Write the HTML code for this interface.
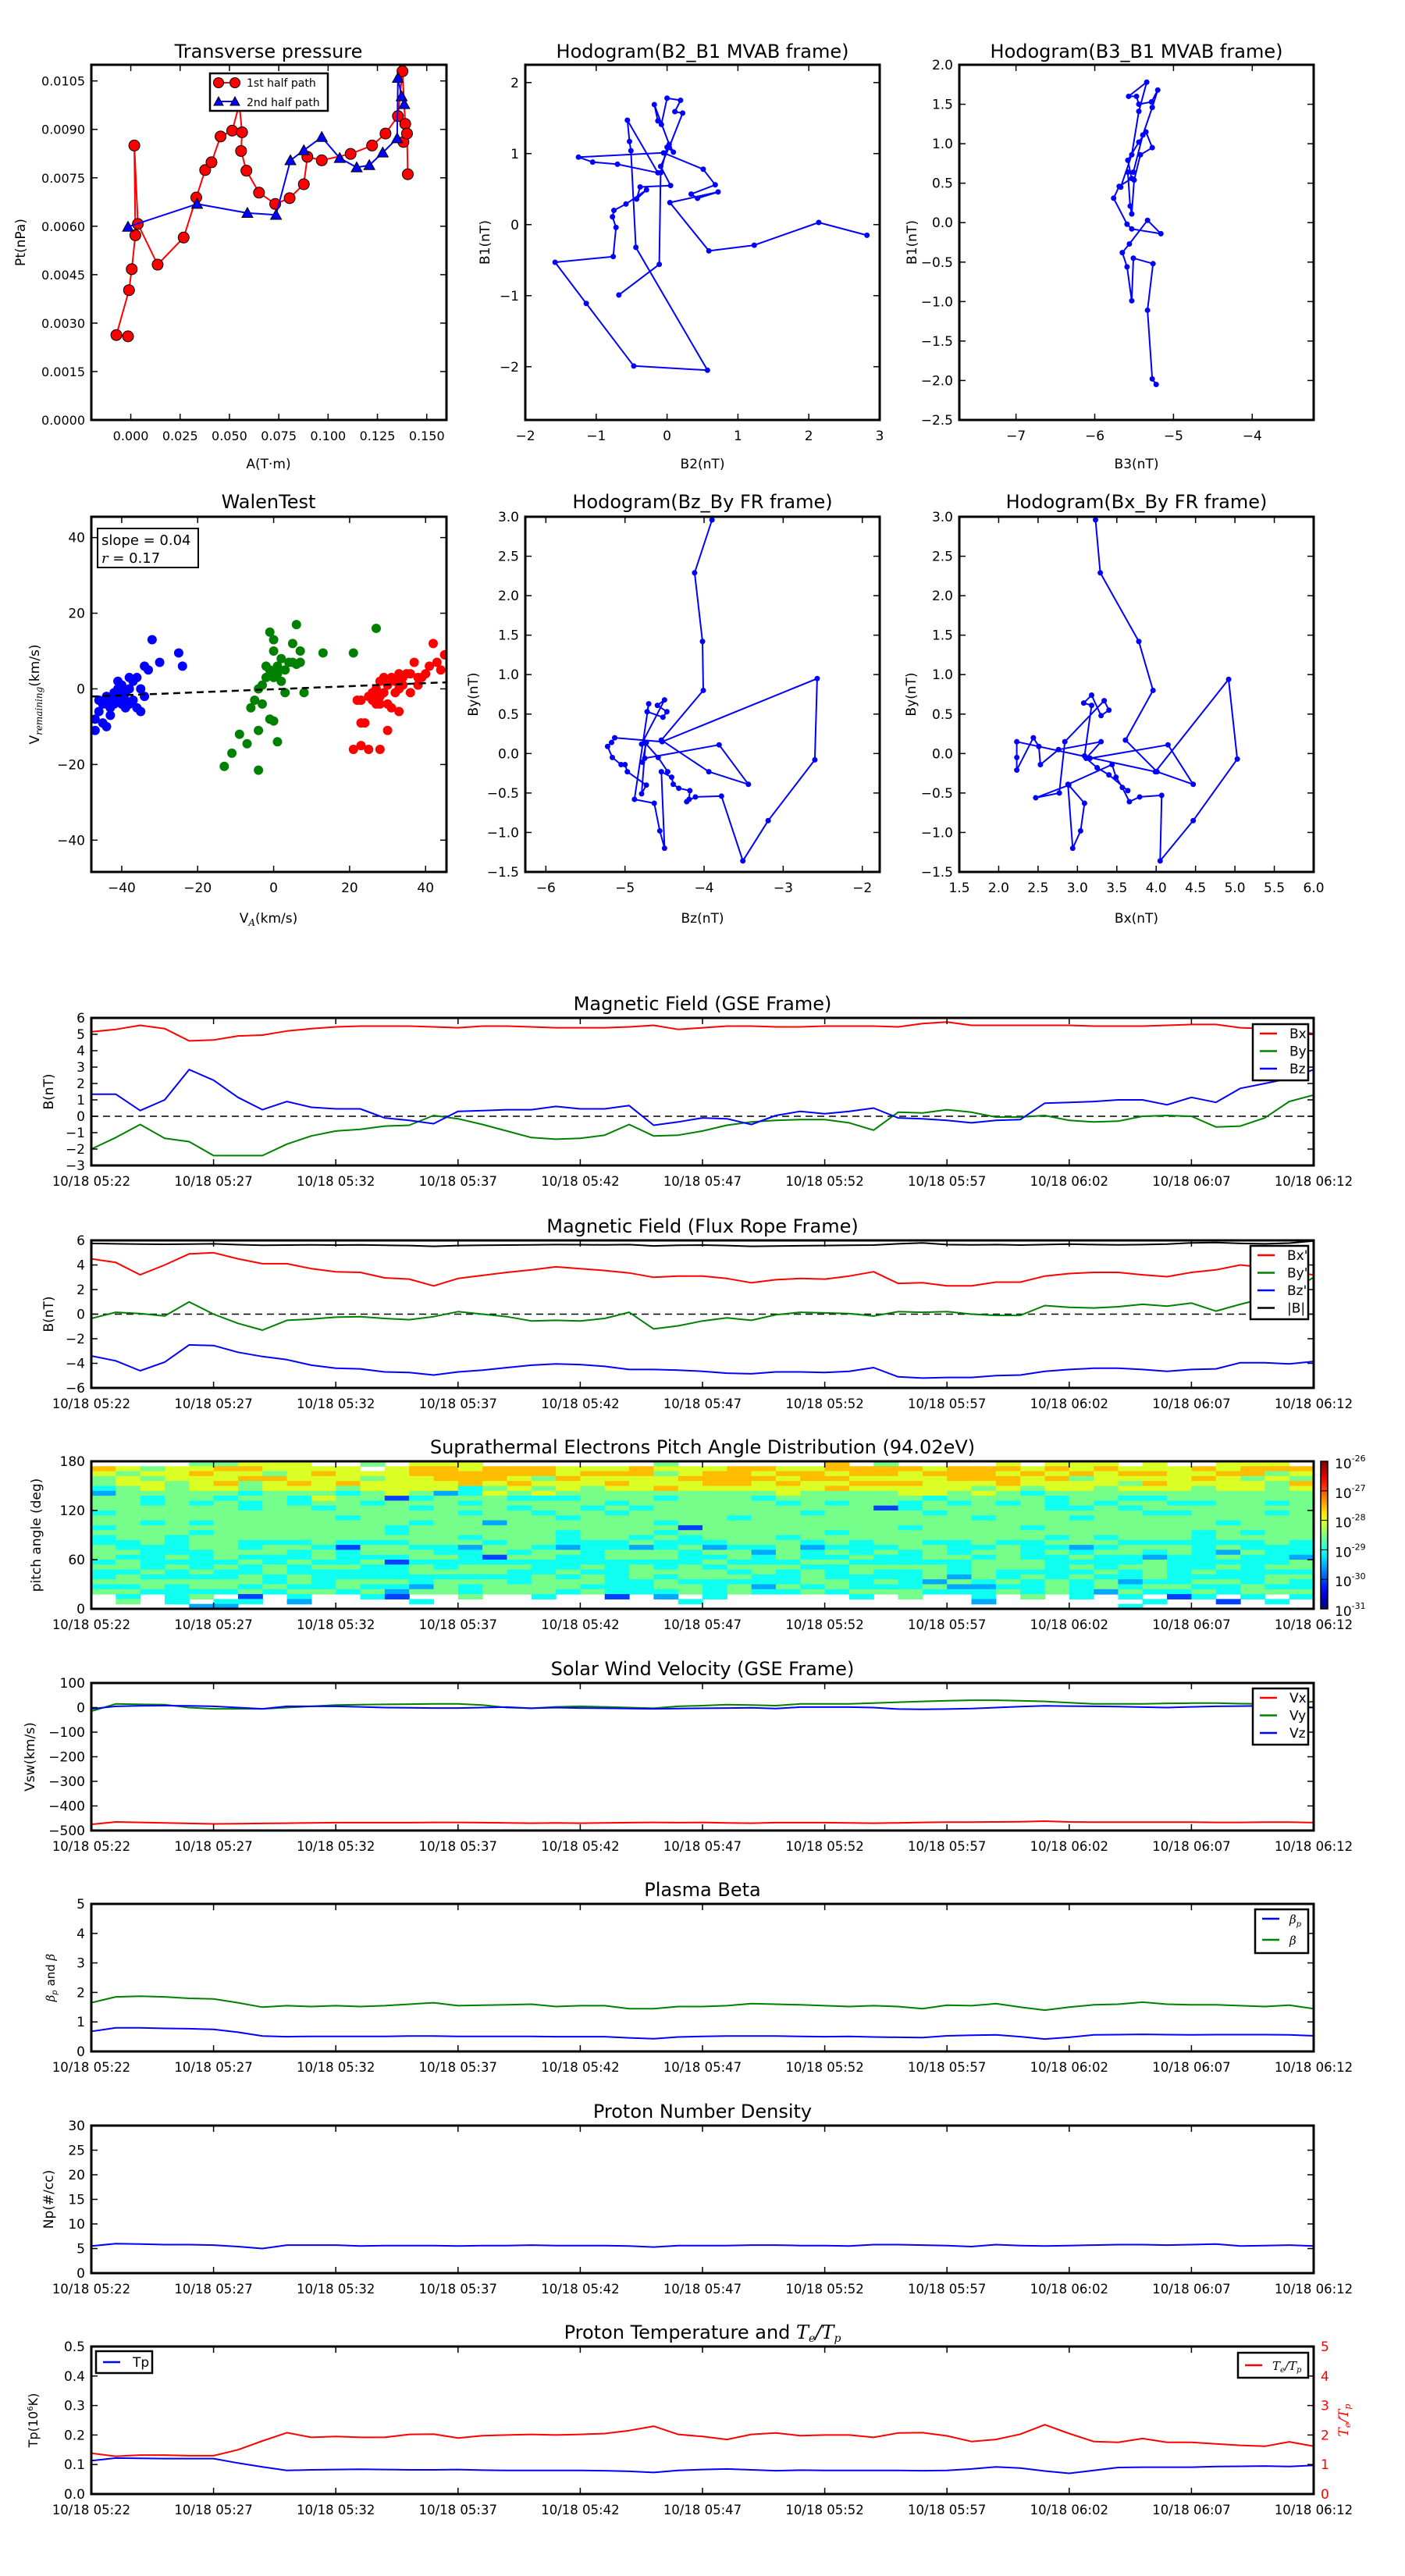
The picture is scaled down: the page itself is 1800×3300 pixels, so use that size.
<!DOCTYPE html>
<html><head><meta charset="utf-8">
<style>
html,body{margin:0;padding:0;background:#fff;}
svg{display:block;font-family:"DejaVu Sans","Liberation Sans",sans-serif;}
</style></head>
<body>
<svg id="fig" xmlns="http://www.w3.org/2000/svg" width="1800" height="3300" viewBox="0 0 1800 3300"></svg>
<script>
// ---------------- DATA ----------------
const minutes = [...Array(51).keys()];
const timeTickLabels = ["10/18 05:22","10/18 05:27","10/18 05:32","10/18 05:37","10/18 05:42","10/18 05:47","10/18 05:52","10/18 05:57","10/18 06:02","10/18 06:07","10/18 06:12"];

const gseBx = [5.15,5.3,5.55,5.35,4.6,4.65,4.9,4.95,5.2,5.35,5.45,5.5,5.5,5.5,5.45,5.4,5.5,5.5,5.45,5.4,5.4,5.4,5.45,5.55,5.3,5.4,5.5,5.5,5.45,5.45,5.5,5.5,5.5,5.45,5.65,5.75,5.55,5.55,5.55,5.55,5.55,5.5,5.5,5.5,5.55,5.6,5.6,5.4,5.35,5.2,5.05];
const gseBy = [-2.0,-1.3,-0.5,-1.35,-1.55,-2.4,-2.4,-2.4,-1.7,-1.2,-0.9,-0.8,-0.6,-0.55,0.05,-0.15,-0.5,-0.9,-1.3,-1.4,-1.35,-1.15,-0.5,-1.2,-1.15,-0.9,-0.55,-0.35,-0.25,-0.2,-0.2,-0.4,-0.85,0.25,0.2,0.4,0.25,-0.05,-0.05,0.05,-0.25,-0.35,-0.3,0.0,0.05,0.0,-0.65,-0.6,-0.1,0.9,1.3];
const gseBz = [1.35,1.35,0.35,1.0,2.85,2.2,1.15,0.4,0.9,0.55,0.45,0.45,-0.1,-0.25,-0.45,0.3,0.35,0.4,0.4,0.6,0.45,0.45,0.65,-0.55,-0.35,-0.1,-0.15,-0.5,0.05,0.3,0.15,0.3,0.5,-0.1,-0.15,-0.25,-0.4,-0.25,-0.2,0.8,0.85,0.9,1.0,1.0,0.7,1.15,0.85,1.7,2.0,2.3,2.85];

const frBx = [4.5,4.2,3.2,4.0,4.9,5.0,4.5,4.1,4.1,3.7,3.45,3.4,2.95,2.85,2.3,2.9,3.15,3.4,3.6,3.85,3.7,3.55,3.35,3.0,3.1,3.1,2.9,2.55,2.8,2.9,2.85,3.1,3.45,2.5,2.55,2.3,2.3,2.6,2.6,3.1,3.3,3.4,3.4,3.2,3.05,3.4,3.6,4.0,3.8,3.45,3.2];
const frBy = [-0.35,0.15,0.05,-0.15,1.0,0.0,-0.75,-1.3,-0.5,-0.4,-0.25,-0.2,-0.35,-0.45,-0.2,0.2,0.0,-0.2,-0.55,-0.5,-0.55,-0.35,0.15,-1.2,-0.95,-0.55,-0.3,-0.5,-0.05,0.15,0.1,0.05,-0.15,0.2,0.15,0.2,0.0,-0.1,-0.1,0.7,0.55,0.5,0.6,0.8,0.65,0.9,0.25,0.8,1.3,1.8,3.0];
const frBz = [-3.4,-3.8,-4.6,-3.9,-2.5,-2.55,-3.1,-3.45,-3.7,-4.15,-4.4,-4.45,-4.7,-4.75,-4.95,-4.7,-4.55,-4.35,-4.15,-4.05,-4.1,-4.25,-4.5,-4.5,-4.55,-4.65,-4.8,-4.85,-4.7,-4.7,-4.75,-4.65,-4.35,-5.1,-5.2,-5.15,-5.15,-5.0,-4.95,-4.65,-4.5,-4.4,-4.4,-4.5,-4.65,-4.5,-4.45,-3.95,-3.95,-4.05,-3.85];
const frBt = [5.75,5.72,5.7,5.68,5.7,5.72,5.65,5.6,5.62,5.64,5.62,5.63,5.6,5.58,5.52,5.58,5.6,5.62,5.64,5.66,5.65,5.63,5.66,5.55,5.6,5.62,5.58,5.52,5.54,5.56,5.58,5.6,5.62,5.72,5.8,5.66,5.64,5.66,5.62,5.66,5.7,5.66,5.64,5.66,5.7,5.8,5.82,5.75,5.72,5.78,5.95];

const vx = [-475,-465,-467,-469,-471,-473,-472,-471,-470,-469,-468,-468,-468,-468,-467,-467,-468,-469,-470,-469,-470,-469,-468,-467,-468,-467,-469,-470,-468,-468,-468,-469,-470,-469,-467,-466,-466,-465,-464,-462,-465,-466,-466,-466,-466,-466,-467,-467,-466,-466,-468];
const vy = [-15,15,13,12,0,-5,-5,-5,0,5,10,12,13,14,15,15,10,0,-3,3,5,3,0,-3,5,8,12,10,8,15,15,15,18,22,25,28,30,30,28,25,20,15,15,15,17,18,18,16,15,12,25];
const vz = [-5,5,7,8,7,5,0,-5,5,5,5,3,0,-1,-2,-2,0,2,-3,0,-2,-3,-4,-5,-4,-3,-2,-1,-4,2,2,2,0,-6,-7,-6,-4,0,4,7,6,5,4,2,0,3,5,6,7,7,0];

const betaP = [0.68,0.8,0.8,0.78,0.77,0.75,0.65,0.52,0.5,0.51,0.51,0.51,0.51,0.52,0.52,0.51,0.51,0.51,0.51,0.5,0.5,0.5,0.46,0.43,0.49,0.51,0.52,0.52,0.52,0.51,0.5,0.51,0.49,0.48,0.47,0.53,0.55,0.56,0.5,0.42,0.48,0.56,0.57,0.58,0.57,0.56,0.57,0.57,0.57,0.56,0.53];
const betaT = [1.65,1.85,1.87,1.85,1.8,1.78,1.65,1.5,1.55,1.52,1.55,1.52,1.55,1.6,1.65,1.55,1.57,1.58,1.6,1.52,1.55,1.55,1.45,1.45,1.52,1.52,1.55,1.62,1.6,1.58,1.55,1.52,1.55,1.52,1.45,1.57,1.55,1.62,1.5,1.4,1.5,1.58,1.6,1.67,1.6,1.58,1.58,1.55,1.52,1.57,1.45];

const np = [5.5,6.0,5.9,5.8,5.8,5.7,5.4,5.0,5.7,5.7,5.7,5.5,5.6,5.6,5.6,5.5,5.6,5.6,5.7,5.6,5.6,5.6,5.5,5.3,5.6,5.6,5.6,5.7,5.7,5.6,5.6,5.5,5.8,5.8,5.7,5.6,5.4,5.8,5.6,5.5,5.6,5.7,5.8,5.8,5.7,5.8,5.9,5.5,5.6,5.7,5.5];

const tp = [0.113,0.122,0.121,0.12,0.12,0.12,0.105,0.092,0.08,0.082,0.083,0.084,0.083,0.082,0.082,0.083,0.081,0.08,0.08,0.08,0.08,0.079,0.077,0.073,0.08,0.083,0.085,0.082,0.079,0.081,0.08,0.08,0.08,0.08,0.079,0.08,0.085,0.092,0.088,0.078,0.07,0.08,0.09,0.091,0.091,0.091,0.093,0.094,0.095,0.093,0.097];
const teTp = [1.38,1.28,1.32,1.32,1.3,1.3,1.5,1.8,2.08,1.92,1.95,1.92,1.92,2.02,2.03,1.9,1.98,2.0,2.02,2.0,2.02,2.05,2.15,2.3,2.02,1.95,1.85,2.02,2.07,1.98,2.0,2.0,1.92,2.07,2.08,1.97,1.78,1.85,2.03,2.35,2.05,1.78,1.75,1.88,1.75,1.75,1.7,1.65,1.62,1.77,1.62];

// PAD: rows from 180deg (top) to 0deg; digit = colour level, '.' = no data
const padRows = [
"....55666..5.666.......5......7.5....6.666.6..666..",
"76566776666.67767776667666776677776777676766676777",
"65667665676667777776777567767767767776767677667756",
"56566677666566777657666677776776666777675666676565",
"56656756767666676766676667767667776667666657666657",
"45656656665666645656566766666676666656566566656656",
"35555545554565346565555555556555566565455555555555",
"55455455465524555444555455545555554555545544555555",
"55454545455455545555545555554545545454545455445545",
"55555545545554555455454555555555245555544545555555",
"45555555555555545545545555555455554555555554455545",
"55555555554555555554555555455555555545554555555555",
"55454555555554553555555455555555555555555555554555",
"45555555555545555555555525555555545555455555555555",
"55554555555545555554555455555545555555555555545455",
"45545555555555545554554545554555555555545455545555",
"44545544454445554554445444555454554454455544444454",
"54445545542554435543443453445344455445443455545444",
"55444555454555445455455545535454545455454554543544",
"54454544454445542554455544545445445545445443445443",
"45444454544524444444444445444554444455544445444445",
"55454545455445455544545454555445555455545455445455",
"44545445444445555445445555454545445454444545454444",
"45444454544444444454545455544544445354545445444455",
"55555554545554555455544544444554543545454534455454",
"44545545445443545555444554535454445334454545544544",
"55444454554535545554544454544545554445454354454555",
".4.45.2.4..42..5..4..2.3.4.....4.5..4.5.4.4.24.4.4",
".5.4.44.3....4..........4...........3......4..2.4.",
"....33....................................4......."
];
const cbarTickExps = ["-26","-27","-28","-29","-30","-31"];

// Transverse pressure
const tpA1 = [-0.0014,-0.0073,-0.0009,0.0005,0.0023,0.0018,0.0036,0.0136,0.0268,0.0332,0.0377,0.0409,0.0455,0.0514,0.0550,0.0564,0.0559,0.0586,0.0650,0.0732,0.0805,0.0877,0.0895,0.0968,0.1114,0.1223,0.1291,0.1354,0.1377,0.1391,0.1382,0.1400,0.1404];
const tpP1 = [0.00259,0.00263,0.00402,0.00467,0.00572,0.00850,0.00607,0.00481,0.00565,0.00689,0.00774,0.00798,0.00878,0.00896,0.00978,0.00891,0.00833,0.00772,0.00704,0.00669,0.00687,0.00730,0.00815,0.00804,0.00824,0.00850,0.00887,0.00941,0.01080,0.00917,0.00861,0.00887,0.00761];
const tpA2 = [-0.0014,0.0336,0.0591,0.0736,0.0809,0.0877,0.0968,0.1059,0.1145,0.1209,0.1277,0.1350,0.1354,0.1373,0.1386];
const tpP2 = [0.00598,0.00669,0.00641,0.00635,0.00804,0.00835,0.00876,0.00811,0.00782,0.00789,0.00828,0.00872,0.01059,0.01002,0.00978];

// Hodogram B2-B1
const h1B2 = [-0.68,-0.11,-0.09,0.00,0.09,0.03,-0.18,-0.13,-0.08,0.00,0.19,0.11,0.22,0.03,-0.09,0.05,-0.38,-0.43,-0.29,-0.58,-0.75,-0.77,-0.72,-0.76,-1.58,-1.14,-0.47,0.57,-0.44,-0.51,-0.53,-0.56,-0.13,-0.70,-1.05,-1.25,-0.05,0.51,0.68,0.34,0.43,0.72,0.04,0.59,1.23,2.14,2.82];
const h1B1 = [-0.99,-0.56,0.73,1.09,1.02,1.13,1.69,1.46,1.41,1.78,1.75,1.59,1.57,1.09,0.82,0.55,0.53,0.36,0.49,0.29,0.20,0.11,-0.04,-0.45,-0.53,-1.11,-1.99,-2.05,-0.32,1.04,1.17,1.47,0.73,0.85,0.88,0.95,1.01,0.78,0.56,0.43,0.37,0.46,0.31,-0.37,-0.29,0.03,-0.15];
// Hodogram B3-B1
const h2B3 = [-5.22,-5.27,-5.33,-5.26,-5.51,-5.53,-5.59,-5.65,-5.56,-5.33,-5.16,-5.53,-5.59,-5.76,-5.69,-5.53,-5.58,-5.44,-5.35,-5.27,-5.42,-5.50,-5.53,-5.55,-5.58,-5.51,-5.39,-5.27,-5.20,-5.28,-5.44,-5.47,-5.57,-5.34,-5.44,-5.53,-5.67];
const h2B1 = [-2.05,-1.98,-1.11,-0.52,-0.45,-0.99,-0.56,-0.38,-0.27,0.03,-0.14,-0.08,-0.02,0.31,0.46,0.56,0.79,1.02,1.15,0.95,0.86,0.54,0.11,0.21,0.64,0.64,1.11,1.46,1.68,1.53,1.50,1.60,1.60,1.78,1.41,0.86,0.45];
// Hodogram Bz-By (FR)
const h3Bz = [-3.90,-4.12,-4.02,-4.01,-4.54,-3.94,-3.44,-3.81,-4.75,-4.78,-4.73,-4.79,-4.50,-4.59,-4.47,-4.52,-4.72,-4.70,-4.88,-4.63,-4.56,-4.50,-4.54,-4.41,-4.39,-4.32,-4.18,-4.19,-4.22,-4.11,-3.78,-3.51,-3.19,-2.60,-2.57,-4.53,-5.13,-5.17,-5.22,-5.16,-5.05,-5.00,-4.97,-4.73,-4.79,-4.74,-4.58,-4.46];
const h3By = [2.96,2.29,1.42,0.80,0.17,-0.23,-0.39,0.11,-0.06,-0.11,0.14,0.12,0.68,0.61,0.53,0.46,0.53,0.63,-0.58,-0.63,-0.98,-1.20,-0.23,-0.30,-0.39,-0.44,-0.47,-0.58,-0.61,-0.55,-0.54,-1.36,-0.85,-0.08,0.95,0.15,0.20,0.14,0.09,-0.05,-0.14,-0.14,-0.23,-0.40,-0.51,0.13,-0.05,-0.23];
// Hodogram Bx-By (FR)
const h4Bx = [3.23,3.29,3.78,3.96,3.61,4.01,4.47,4.15,3.16,3.09,3.18,3.08,3.18,3.30,3.40,3.34,2.84,2.77,2.47,2.89,3.09,3.04,2.94,2.88,3.44,3.49,3.57,3.66,3.79,4.07,4.05,4.47,5.03,4.92,3.99,2.23,2.23,2.23,2.44,2.51,2.53,2.76,3.30,3.11,3.25,3.40,3.64];
const h4By = [2.96,2.29,1.42,0.80,0.17,-0.23,-0.39,0.11,-0.06,-0.03,0.61,0.64,0.74,0.48,0.55,0.67,0.15,-0.50,-0.56,-0.40,-0.63,-0.98,-1.20,-0.39,-0.14,-0.30,-0.43,-0.61,-0.55,-0.53,-1.36,-0.85,-0.07,0.94,-0.23,0.15,-0.05,-0.21,0.20,0.09,-0.14,0.05,0.15,-0.06,-0.18,-0.27,-0.47];

// Walen test
const walenBlueX = [-47,-46,-45,-45,-44,-43,-43,-42,-42,-41,-41,-40,-40,-40,-39,-39,-38,-38,-37,-37,-36,-36,-35,-34,-34,-33,-32,-30,-25,-24,-46,-44,-42,-41,-39,-38,-35,-44,-47];
const walenBlueY = [-11,-6,-9,-4,-2,-7,-5,-3,-1,0,2,-4,-2,1,-3,-5,3,0,2,-3,3,-5,-6,6,-2,5,13,7,9.5,6,-3,-4,-4,-2,-1,-4,0,-10,-8];
const walenGreenX = [-13,-11,-9,-7,-6,-5,-4,-4,-3,-4,-3,-2,-2,-1,-1,0,-1,0,0,1,0,1,1,2,2,3,3,4,5,5,6,6,7,7,8,13,21,27];
const walenGreenY = [-20.5,-17,-12,-14.5,-5,-3,-21.5,-11,-4,0,1,3,6,5,-8,-8.5,15,13,10,-14,3,6,4,2,8,5,-1,7,12,7,6.5,17,7,10,-1,9.5,9.5,16];
const walenRedX = [21,22,23,23,23,24,25,26,26,27,27,28,28,28,29,29,30,30,30,31,32,32,33,33,34,34,35,36,36,37,38,38,39,40,41,42,43,45,44,31,33,28,25];
const walenRedY = [-16,-3,-3,-15,-9,-9,-2,-1,-3,0,-4,2,-2,-4,-1,3,1,-11,-4,3,2,-1,0,4,3,1,4,4,-1,7,1,3,3,4,6,12,7,9,5,-5,-6,-16,-16];
const walenSlope = 0.04, walenIntercept = -0.1;

// ---------------- DRAWING ----------------
const NS = "http://www.w3.org/2000/svg";
const svg = document.getElementById('fig');
let clipId = 0;
function mk(tag, attrs, parent){
  const e = document.createElementNS(NS, tag);
  for (const k in attrs) e.setAttribute(k, attrs[k]);
  (parent || svg).appendChild(e);
  return e;
}
function text(parent, x, y, str, size, anchor, nm, extra){
  const t = mk('text', Object.assign({x:x, y:y, 'font-size':size, 'text-anchor':anchor||'middle', fill:'#000'}, extra||{}), parent);
  t.textContent = str;
  
  
  return t;
}
function axes(nm, x0, y0, w, h, xd, yd){
  const g = mk('g', {});
  
  
  const id = 'clip' + (clipId++);
  const cp = mk('clipPath', {id:id}, g);
  mk('rect', {x:x0, y:y0, width:w, height:h}, cp);
  const plot = mk('g', {'clip-path':'url(#'+id+')'}, g);
  
  
  return {g, plot, x0, y0, w, h,
    sx: v => x0 + (v - xd[0]) / (xd[1] - xd[0]) * w,
    sy: v => y0 + h - (v - yd[0]) / (yd[1] - yd[0]) * h};
}
function frame(ax){
  const f = mk('rect', {x:ax.x0, y:ax.y0, width:ax.w, height:ax.h, fill:'none', stroke:'#000', 'stroke-width':3}, ax.g);
  
  
}
function xticks(ax, vals, labels, fs, noTop){
  vals.forEach((v, i) => {
    const x = ax.sx(v);
    mk('line', {x1:x, x2:x, y1:ax.y0+ax.h, y2:ax.y0+ax.h-8, stroke:'#000', 'stroke-width':1.5}, ax.g);
    if (!noTop) mk('line', {x1:x, x2:x, y1:ax.y0, y2:ax.y0+8, stroke:'#000', 'stroke-width':1.5}, ax.g);
    text(ax.g, x, ax.y0 + ax.h + 26, labels[i], fs || 17, 'middle', 'x-tick-label');
  });
}
function yticks(ax, vals, labels, fs, noRight){
  vals.forEach((v, i) => {
    const y = ax.sy(v);
    mk('line', {x1:ax.x0, x2:ax.x0+8, y1:y, y2:y, stroke:'#000', 'stroke-width':1.5}, ax.g);
    if (!noRight) mk('line', {x1:ax.x0+ax.w, x2:ax.x0+ax.w-8, y1:y, y2:y, stroke:'#000', 'stroke-width':1.5}, ax.g);
    text(ax.g, ax.x0 - 8, y + 6, labels[i], fs || 17, 'end', 'y-tick-label');
  });
}
function ylabel(ax, x, str, nm, size){
  const y = ax.y0 + ax.h/2;
  const t = text(ax.g, x, y, str, size || 17, 'middle', nm, {transform:'rotate(-90 '+x+' '+y+')'});
  return t;
}
function line(ax, xs, ys, color, nm, sw, dash){
  const pts = xs.map((v, i) => ax.sx(v).toFixed(1) + ',' + ax.sy(ys[i]).toFixed(1)).join(' ');
  const p = mk('polyline', {points:pts, fill:'none', stroke:color, 'stroke-width':sw||2, 'stroke-linejoin':'round'}, ax.plot);
  if (dash) p.setAttribute('stroke-dasharray', dash);
  
  
  return p;
}
function dots(ax, xs, ys, color, r, nm, stroke){
  xs.forEach((v, i) => {
    const c = mk('circle', {cx:ax.sx(v), cy:ax.sy(ys[i]), r:r, fill:color, stroke:stroke||'none', 'stroke-width':1}, ax.plot);
    
    
  });
}
function tris(ax, xs, ys, color, r, nm){
  xs.forEach((v, i) => {
    const x = ax.sx(v), y = ax.sy(ys[i]);
    const p = mk('polygon', {points:`${x},${y-r} ${x-r},${y+r*0.8} ${x+r},${y+r*0.8}`, fill:color, stroke:'#000', 'stroke-width':1}, ax.plot);
    
    
  });
}
function title(x, y, str, nm){ return text(svg, x, y, str, 24, 'middle', nm); }
const MATH = {'font-family':'"DejaVu Serif","Liberation Serif",serif','font-style':'italic'};
function mathLabel(t, parts, sub){
  parts.forEach(p => {
    const s = mk('tspan', Object.assign({}, MATH, p.sub ? {'font-size':sub, dy:p.dy} : {dy:p.dy||0}), t);
    s.textContent = p.s;
  });
}
function legend(ax, x, y, w, h, entries, nm){
  const g = mk('g', {}, ax.g);
  
  
  mk('rect', {x:x, y:y, width:w, height:h, fill:'#fff', stroke:'#000', 'stroke-width':2.5}, g);
  entries.forEach((e, i) => {
    const yy = y + 12 + i * e.dy + (e.off||0);
    mk('line', {x1:x+9, x2:x+31, y1:yy, y2:yy, stroke:e.c, 'stroke-width':2.5}, g);
    const t = text(g, x+(e.tx||47), yy+6, e.math ? '' : e.t, e.fs||17, 'start', 'legend-entry');
    if (e.math) mathLabel(t, e.math, 10);
  });
  return g;
}

// ---- time axis helper ----
const TL = 117, TW = 1566, TH = 189;
const timeTickVals = [0,5,10,15,20,25,30,35,40,45,50];
function tsAxes(nm, top, yd){
  return axes(nm, TL, top, TW, TH, [0, 50], yd);
}
function tsFinish(ax, ytv, ytl, noRight){
  xticks(ax, timeTickVals, timeTickLabels, 16.5);
  yticks(ax, ytv, ytl, 17, noRight);
  frame(ax);
}

// ================= ROW 1 =================
(function(){
  const ax = axes('transverse-pressure-chart', 117, 83, 455, 455, [-0.02, 0.16], [0, 0.011]);
  title(344, 74, 'Transverse pressure', 'transverse-pressure-title');
  line(ax, tpA1, tpP1, '#ff0000', 'first-half-path-line', 2);
  dots(ax, tpA1, tpP1, '#ff0000', 7, 'first-half-point', '#000');
  line(ax, tpA2, tpP2, '#0000ff', 'second-half-path-line', 2);
  tris(ax, tpA2, tpP2, '#0000ff', 7, 'second-half-point');
  const xv = [0,0.025,0.05,0.075,0.1,0.125,0.15];
  xticks(ax, xv, xv.map(v=>v.toFixed(3)), 16);
  const yv = [0,0.0015,0.003,0.0045,0.006,0.0075,0.009,0.0105];
  yticks(ax, yv, yv.map(v=>v.toFixed(4)), 16);
  text(svg, 344, 600, 'A(T·m)', 17, 'middle', 'x-axis-title');
  ylabel(ax, 32, 'Pt(nPa)', 'y-axis-title');
  const lg = mk('g', {}, ax.g);
  
  
  mk('rect', {x:269, y:94, width:151, height:48, fill:'#fff', stroke:'#000', 'stroke-width':2.5}, lg);
  mk('line', {x1:280, x2:301, y1:106, y2:106, stroke:'#ff0000', 'stroke-width':2}, lg);
  mk('circle', {cx:280, cy:106, r:6.5, fill:'#ff0000', stroke:'#000'}, lg);
  mk('circle', {cx:301, cy:106, r:6.5, fill:'#ff0000', stroke:'#000'}, lg);
  mk('line', {x1:280, x2:301, y1:130, y2:130, stroke:'#0000ff', 'stroke-width':2}, lg);
  mk('polygon', {points:'280,124 274,135 286,135', fill:'#0000ff', stroke:'#000'}, lg);
  mk('polygon', {points:'301,124 295,135 307,135', fill:'#0000ff', stroke:'#000'}, lg);
  text(lg, 316, 111, '1st half path', 14, 'start', 'legend-entry');
  text(lg, 316, 136, '2nd half path', 14, 'start', 'legend-entry');
  frame(ax);
})();

(function(){
  const ax = axes('hodogram-b2-b1-chart', 673, 83, 454, 455, [-2, 3], [-2.75, 2.25]);
  title(900, 74, 'Hodogram(B2_B1 MVAB frame)', 'hodogram-b2-b1-title');
  line(ax, h1B2, h1B1, '#0000ff', 'hodogram-b2-b1-line', 2);
  dots(ax, h1B2, h1B1, '#0000ff', 3.5, 'hodogram-b2-b1-point');
  xticks(ax, [-2,-1,0,1,2,3], ['−2','−1','0','1','2','3']);
  yticks(ax, [-2,-1,0,1,2], ['−2','−1','0','1','2']);
  text(svg, 900, 600, 'B2(nT)', 17, 'middle', 'x-axis-title');
  ylabel(ax, 627, 'B1(nT)', 'y-axis-title');
  frame(ax);
})();

(function(){
  const ax = axes('hodogram-b3-b1-chart', 1229, 83, 454, 455, [-7.72, -3.22], [-2.5, 2.0]);
  title(1456, 74, 'Hodogram(B3_B1 MVAB frame)', 'hodogram-b3-b1-title');
  line(ax, h2B3, h2B1, '#0000ff', 'hodogram-b3-b1-line', 2);
  dots(ax, h2B3, h2B1, '#0000ff', 3.5, 'hodogram-b3-b1-point');
  xticks(ax, [-7,-6,-5,-4], ['−7','−6','−5','−4']);
  const yv = [-2.5,-2,-1.5,-1,-0.5,0,0.5,1,1.5,2];
  yticks(ax, yv, yv.map(v=>(v<0?'−':'')+Math.abs(v).toFixed(1)));
  text(svg, 1456, 600, 'B3(nT)', 17, 'middle', 'x-axis-title');
  ylabel(ax, 1174, 'B1(nT)', 'y-axis-title');
  frame(ax);
})();

// ================= ROW 2 =================
(function(){
  const ax = axes('walen-test-chart', 117, 662, 455, 455, [-48, 45.5], [-48.4, 45.5]);
  title(344, 651, 'WalenTest', 'walen-test-title');
  dots(ax, walenBlueX, walenBlueY, '#0000ff', 6, 'walen-blue-point');
  dots(ax, walenGreenX, walenGreenY, '#008000', 6, 'walen-green-point');
  dots(ax, walenRedX, walenRedY, '#ff0000', 6, 'walen-red-point');
  line(ax, [-48, 45.5], [-48*walenSlope+walenIntercept, 45.5*walenSlope+walenIntercept], '#000', 'walen-fit-line', 2.5, '9,6');
  xticks(ax, [-40,-20,0,20,40], ['−40','−20','0','20','40']);
  yticks(ax, [-40,-20,0,20,40], ['−40','−20','0','20','40']);
  const xl = text(svg, 344, 1182, 'V', 17, 'middle', 'x-axis-title');
  const s1 = mk('tspan', {'font-size':12, 'font-style':'italic', 'font-family':'"DejaVu Serif",serif', dy:4}, xl); s1.textContent='A';
  const s2 = mk('tspan', {dy:-4}, xl); s2.textContent='(km/s)';
  const yl = ylabel(ax, 50, 'V', 'y-axis-title');
  const s3 = mk('tspan', {'font-size':12, 'font-style':'italic', 'font-family':'"DejaVu Serif",serif', dy:4}, yl); s3.textContent='remaining';
  const s4 = mk('tspan', {dy:-4}, yl); s4.textContent='(km/s)';
  const bx = mk('g', {}, ax.g);
  
  
  mk('rect', {x:125, y:677, width:129, height:50, fill:'#fff', stroke:'#000', 'stroke-width':2}, bx);
  text(bx, 130, 698, 'slope = 0.04', 18, 'start', 'slope-text');
  const rt = text(bx, 130, 721, '', 18, 'start', 'r-text');
  const r1 = mk('tspan', {'font-style':'italic','font-family':'"DejaVu Serif",serif'}, rt); r1.textContent='r';
  const r2 = mk('tspan', {}, rt); r2.textContent=' = 0.17';
  frame(ax);
})();

(function(){
  const ax = axes('hodogram-bz-by-chart', 673, 662, 454, 455, [-6.26, -1.78], [-1.5, 3.0]);
  title(900, 651, 'Hodogram(Bz_By FR frame)', 'hodogram-bz-by-title');
  line(ax, h3Bz, h3By, '#0000ff', 'hodogram-bz-by-line', 2);
  dots(ax, h3Bz, h3By, '#0000ff', 3.5, 'hodogram-bz-by-point');
  xticks(ax, [-6,-5,-4,-3,-2], ['−6','−5','−4','−3','−2']);
  const yv = [-1.5,-1,-0.5,0,0.5,1,1.5,2,2.5,3];
  yticks(ax, yv, yv.map(v=>(v<0?'−':'')+Math.abs(v).toFixed(1)));
  text(svg, 900, 1182, 'Bz(nT)', 17, 'middle', 'x-axis-title');
  ylabel(ax, 612, 'By(nT)', 'y-axis-title');
  frame(ax);
})();

(function(){
  const ax = axes('hodogram-bx-by-chart', 1229, 662, 454, 455, [1.5, 6.0], [-1.5, 3.0]);
  title(1456, 651, 'Hodogram(Bx_By FR frame)', 'hodogram-bx-by-title');
  line(ax, h4Bx, h4By, '#0000ff', 'hodogram-bx-by-line', 2);
  dots(ax, h4Bx, h4By, '#0000ff', 3.5, 'hodogram-bx-by-point');
  const xv = [1.5,2,2.5,3,3.5,4,4.5,5,5.5,6];
  xticks(ax, xv, xv.map(v=>v.toFixed(1)));
  const yv = [-1.5,-1,-0.5,0,0.5,1,1.5,2,2.5,3];
  yticks(ax, yv, yv.map(v=>(v<0?'−':'')+Math.abs(v).toFixed(1)));
  text(svg, 1456, 1182, 'Bx(nT)', 17, 'middle', 'x-axis-title');
  ylabel(ax, 1173, 'By(nT)', 'y-axis-title');
  frame(ax);
})();

// ================= TIME SERIES =================
const CX = TL + TW/2;
function neg(v){ return (v<0?'−':'') + Math.abs(v); }

(function(){
  const top = 1304;
  const ax = tsAxes('magnetic-field-gse-chart', top, [-3, 6]);
  title(CX, top-10, 'Magnetic Field (GSE Frame)', 'magnetic-field-gse-title');
  line(ax, [0,50], [0,0], '#000', 'zero-line', 1.5, '9,6');
  line(ax, minutes, gseBx, '#ff0000', 'bx-line');
  line(ax, minutes, gseBy, '#008000', 'by-line');
  line(ax, minutes, gseBz, '#0000ff', 'bz-line');
  const yv = [-3,-2,-1,0,1,2,3,4,5,6];
  tsFinish(ax, yv, yv.map(neg));
  ylabel(ax, 68, 'B(nT)', 'y-axis-title');
  legend(ax, 1605, 1312, 71, 72, [{t:'Bx',c:'#ff0000',dy:22.5},{t:'By',c:'#008000',dy:22.5},{t:'Bz',c:'#0000ff',dy:22.5}], 'gse-legend');
})();

(function(){
  const top = 1589;
  const ax = tsAxes('magnetic-field-fr-chart', top, [-6, 6]);
  title(CX, top-10, 'Magnetic Field (Flux Rope Frame)', 'magnetic-field-fr-title');
  line(ax, [0,50], [0,0], '#000', 'zero-line', 1.5, '9,6');
  line(ax, minutes, frBt, '#000000', 'btotal-line');
  line(ax, minutes, frBx, '#ff0000', 'bx-prime-line');
  line(ax, minutes, frBy, '#008000', 'by-prime-line');
  line(ax, minutes, frBz, '#0000ff', 'bz-prime-line');
  const yv = [-6,-4,-2,0,2,4,6];
  tsFinish(ax, yv, yv.map(neg));
  ylabel(ax, 68, 'B(nT)', 'y-axis-title');
  legend(ax, 1602, 1596, 74, 94, [{t:"Bx'",c:'#ff0000',dy:22.5},{t:"By'",c:'#008000',dy:22.5},{t:"Bz'",c:'#0000ff',dy:22.5},{t:'|B|',c:'#000',dy:22.5}], 'fr-legend');
})();

function jet(t){
  const c = v => Math.round(255*Math.max(0, Math.min(1, v)));
  return `rgb(${c(1.5-Math.abs(4*t-3))},${c(1.5-Math.abs(4*t-2))},${c(1.5-Math.abs(4*t-1))})`;
}
(function(){
  const top = 1872;
  const ax = tsAxes('pitch-angle-distribution-chart', top, [0, 180]);
  title(CX, top-10, 'Suprathermal Electrons Pitch Angle Distribution (94.02eV)', 'pad-title');
  const nRows = padRows.length, nCols = 50;
  const rowH = 180 / nRows;
  padRows.forEach((row, r) => {
    for (let c = 0; c < nCols; c++){
      const ch = row[c];
      if (!ch || ch === '.') continue;
      const lvl = parseInt(ch, 10);
      const x1 = ax.sx(c), x2 = ax.sx(c+1);
      const yTop = ax.sy(180 - r*rowH), yBot = ax.sy(180 - (r+1)*rowH);
      const cell = mk('rect', {x:x1, y:yTop, width:x2-x1+0.6, height:yBot-yTop+0.6, fill:jet(lvl/10 - 0.01)}, ax.plot);
      
      
    }
  });
  tsFinish(ax, [0,60,120,180], ['0','60','120','180']);
  ylabel(ax, 52, 'pitch angle (deg)', 'y-axis-title');
  const cb = mk('g', {});
  
  
  const defs = mk('defs', {}, cb);
  const lg = mk('linearGradient', {id:'jetgrad', x1:0, y1:1, x2:0, y2:0}, defs);
  for (let i = 0; i <= 20; i++){
    mk('stop', {offset:(i/20), 'stop-color':jet(i/20)}, lg);
  }
  mk('rect', {x:1692, y:1872, width:9, height:189, fill:'url(#jetgrad)', stroke:'#000', 'stroke-width':1.5}, cb);
  cbarTickExps.forEach((e, i) => {
    const y = 1872 + i * 189/5;
    mk('line', {x1:1692, x2:1701, y1:y, y2:y, stroke:'#000', 'stroke-width':1}, cb);
    const t = text(cb, 1710, y + 9, '10', 17, 'start', 'colorbar-tick-label');
    const s = mk('tspan', {'font-size':11, dy:-9}, t); s.textContent = e;
  });
})();

(function(){
  const top = 2156;
  const ax = tsAxes('solar-wind-velocity-chart', top, [-500, 100]);
  title(CX, top-10, 'Solar Wind Velocity (GSE Frame)', 'solar-wind-velocity-title');
  line(ax, minutes, vx, '#ff0000', 'vx-line');
  line(ax, minutes, vy, '#008000', 'vy-line');
  line(ax, minutes, vz, '#0000ff', 'vz-line');
  const yv = [-500,-400,-300,-200,-100,0,100];
  tsFinish(ax, yv, yv.map(neg));
  ylabel(ax, 44, 'Vsw(km/s)', 'y-axis-title');
  legend(ax, 1605, 2163, 71, 72, [{t:'Vx',c:'#ff0000',dy:22.5},{t:'Vy',c:'#008000',dy:22.5},{t:'Vz',c:'#0000ff',dy:22.5}], 'velocity-legend');
})();

(function(){
  const top = 2439;
  const ax = tsAxes('plasma-beta-chart', top, [0, 5]);
  title(CX, top-10, 'Plasma Beta', 'plasma-beta-title');
  line(ax, minutes, betaT, '#008000', 'beta-line');
  line(ax, minutes, betaP, '#0000ff', 'beta-p-line');
  const yv = [0,1,2,3,4,5];
  tsFinish(ax, yv, yv.map(String));
  const yl = ylabel(ax, 70, '', 'y-axis-title', 15);
  const a = mk('tspan', {'font-style':'italic','font-family':'"DejaVu Serif",serif'}, yl); a.textContent='β';
  const b = mk('tspan', {'font-size':10,'font-style':'italic', dy:3}, yl); b.textContent='p';
  const c = mk('tspan', {dy:-3}, yl); c.textContent=' and ';
  const d = mk('tspan', {'font-style':'italic','font-family':'"DejaVu Serif",serif'}, yl); d.textContent='β';
  legend(ax, 1608, 2446, 68, 56, [
    {c:'#0000ff',dy:27,tx:44,fs:15,math:[{s:'β'},{s:'p',sub:true,dy:4}]},
    {c:'#008000',dy:27,tx:44,fs:15,math:[{s:'β'}]}], 'beta-legend');
})();

(function(){
  const top = 2723;
  const ax = tsAxes('proton-density-chart', top, [0, 30]);
  title(CX, top-10, 'Proton Number Density', 'proton-density-title');
  line(ax, minutes, np, '#0000ff', 'np-line');
  const yv = [0,5,10,15,20,25,30];
  tsFinish(ax, yv, yv.map(String));
  ylabel(ax, 68, 'Np(#/cc)', 'y-axis-title');
})();

(function(){
  const top = 3006;
  const ax = tsAxes('proton-temperature-chart', top, [0, 0.5]);
  const tt = title(CX, top-10, 'Proton Temperature and ', 'proton-temperature-title');
  const m = mk('tspan', {'font-style':'italic','font-family':'"DejaVu Serif",serif'}, tt); m.textContent='T';
  const m2 = mk('tspan', {'font-size':14,'font-style':'italic','font-family':'"DejaVu Serif",serif', dy:4}, tt); m2.textContent='e';
  const m3 = mk('tspan', {'font-style':'italic','font-family':'"DejaVu Serif",serif', dy:-4}, tt); m3.textContent='/T';
  const m4 = mk('tspan', {'font-size':14,'font-style':'italic','font-family':'"DejaVu Serif",serif', dy:4}, tt); m4.textContent='p';
  const teAx = Object.assign({}, ax, {sy: v => top + TH - v/5*TH});
  line(teAx, minutes, teTp, '#ff0000', 'te-tp-line');
  line(ax, minutes, tp, '#0000ff', 'tp-line');
  const yv = [0,0.1,0.2,0.3,0.4,0.5];
  tsFinish(ax, yv, yv.map(v=>v.toFixed(1)), true);
  [0,1,2,3,4,5].forEach(v => {
    const y = teAx.sy(v);
    mk('line', {x1:TL+TW, x2:TL+TW-8, y1:y, y2:y, stroke:'#000', 'stroke-width':1.5}, ax.g);
    text(ax.g, 1692, y+6, String(v), 17, 'start', 'right-y-tick-label', {fill:'#ff0000'});
  });
  const yl = ylabel(ax, 48, 'Tp(10', 'y-axis-title', 16);
  const e = mk('tspan', {'font-size':10, dy:-6}, yl); e.textContent='6';
  const k = mk('tspan', {dy:6}, yl); k.textContent='K)';
  const ry = top + TH/2;
  const rl = text(svg, 1727, ry, 'T', 17, 'middle', 'right-y-axis-title', {fill:'#ff0000','font-style':'italic','font-family':'"DejaVu Serif",serif', transform:'rotate(-90 1727 '+ry+')'});
  const r2 = mk('tspan', {'font-size':11, dy:3}, rl); r2.textContent='e';
  const r3 = mk('tspan', {dy:-3}, rl); r3.textContent='/T';
  const r4 = mk('tspan', {'font-size':11, dy:3}, rl); r4.textContent='p';
  legend(ax, 123, 3012, 72, 28, [{t:'Tp',c:'#0000ff',dy:0,off:2}], 'tp-legend');
  legend(ax, 1586, 3014, 90, 32, [{c:'#ff0000',dy:0,off:4,tx:44,fs:15,math:[{s:'T'},{s:'e',sub:true,dy:3},{s:'/T',dy:-3},{s:'p',sub:true,dy:3}]}], 'te-tp-legend');
})();
</script>
</body></html>
